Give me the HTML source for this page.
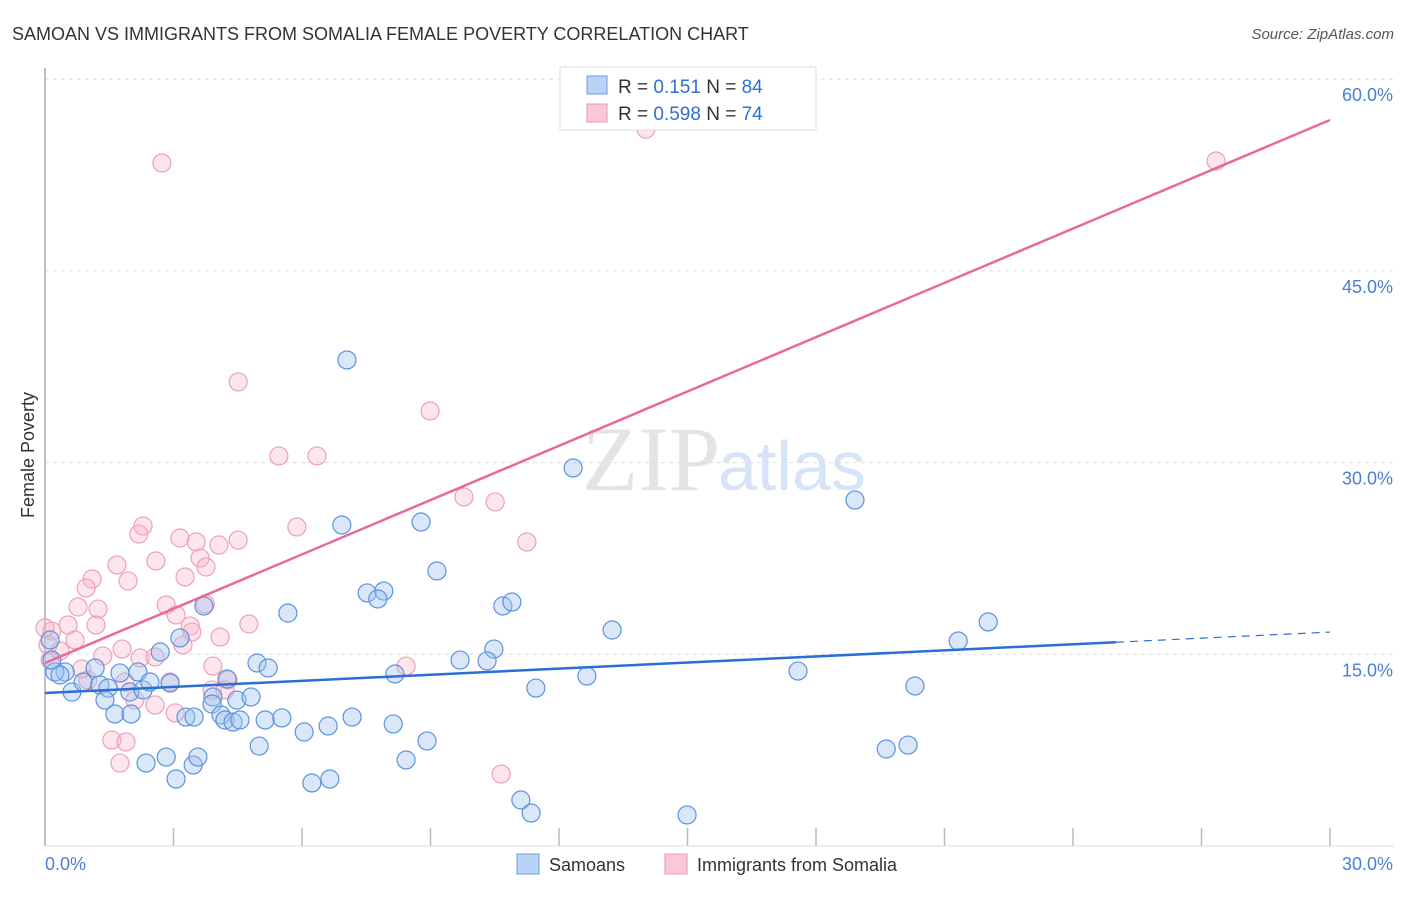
<!DOCTYPE html>
<html><head><meta charset="utf-8"><style>
body{margin:0;background:#fff;font-family:"Liberation Sans",sans-serif}
</style></head><body>
<svg id="c" width="1406" height="892" xmlns="http://www.w3.org/2000/svg">
<text x="12" y="40" font-size="18" fill="#333">SAMOAN VS IMMIGRANTS FROM SOMALIA FEMALE POVERTY CORRELATION CHART</text>
<text x="1394" y="39" font-size="15" fill="#555" font-style="italic" text-anchor="end">Source: ZipAtlas.com</text>
<text x="720" y="490" font-size="92" fill="#e4e4e4" text-anchor="end" font-family="Liberation Serif,serif">ZIP</text>
<text x="718" y="490" font-size="70" fill="#d6e4f7">atlas</text>
<g id="grid"></g><g id="axes"></g><g id="pts"></g><g id="lines"></g>
<text transform="translate(34,455) rotate(-90)" font-size="18" fill="#333" text-anchor="middle">Female Poverty</text>
<g>
<rect x="560" y="67" width="256" height="63" fill="#fff" stroke="#ddd"/>
<rect x="587" y="76" width="20" height="18" fill="#b9d3f5" stroke="#6a9be0"/>
<rect x="587" y="104" width="20" height="18" fill="#fbc8d7" stroke="#ec94b0"/>
<text x="618" y="93" font-size="19" fill="#333">R =  <tspan fill="#2f6fd6">0.151</tspan>   N =  <tspan fill="#2f6fd6">84</tspan></text>
<text x="618" y="120" font-size="19" fill="#333">R = <tspan fill="#2f6fd6">0.598</tspan>   N =  <tspan fill="#2f6fd6">74</tspan></text>
</g>
<g>
<rect x="517" y="854" width="22" height="20" fill="#b9d3f5" stroke="#6a9be0"/>
<text x="549" y="871" font-size="18" fill="#333">Samoans</text>
<rect x="665" y="854" width="22" height="20" fill="#fbc8d7" stroke="#ec94b0"/>
<text x="697" y="871" font-size="18" fill="#333">Immigrants from Somalia</text>
</g>
</svg>
<script>
const blueX=[12.33,7.05,18.91,8.78,6.93,9.15,7.52,7.91,7.77,10.69,10.90,5.67,3.71,13.24,22.02,21.32,10.48,9.69,10.32,4.95,5.21,8.17,12.65,17.58,11.46,20.31,3.15,2.69,2.17,1.75,1.17,0.47,0.23,0.63,0.89,1.28,1.47,1.40,1.98,2.29,2.45,2.92,1.63,2.01,3.92,3.90,4.25,4.48,4.11,4.20,4.39,4.55,4.81,5.14,5.53,3.29,3.48,6.05,6.61,7.17,8.13,5.00,2.83,2.36,3.46,3.57,3.06,6.23,6.65,8.43,8.92,11.11,11.35,14.99,19.64,20.15,0.12,0.16,0.35];
const blueY=[29.58,38.03,27.07,25.35,25.12,21.52,19.80,19.95,19.33,18.78,19.09,18.23,18.78,16.90,17.53,16.04,15.41,14.55,14.48,14.32,13.93,13.46,13.30,13.69,12.36,12.52,16.28,15.18,13.62,13.54,13.93,13.62,13.62,12.05,12.83,12.60,12.36,11.42,12.05,12.21,12.83,12.75,10.33,10.33,11.66,11.11,13.07,11.42,10.25,9.86,9.70,9.86,11.66,9.86,10.02,10.09,10.09,8.92,9.39,10.09,9.55,7.82,6.96,6.49,6.34,6.96,5.24,4.93,5.24,6.73,8.22,3.60,2.58,2.43,7.59,7.90,16.12,14.55,13.38];
const pinkX=[2.73,14.03,27.34,4.51,8.99,5.46,6.35,9.78,10.51,11.25,5.88,2.29,2.19,3.15,3.53,4.51,4.06,2.59,1.68,3.62,3.76,3.27,1.94,1.10,0.96,0.77,1.24,1.19,0.54,2.83,3.06,3.74,4.76,3.39,4.09,3.43,3.22,1.80,0.70,0.16,0.07,0.35,1.35,2.22,2.57,3.92,0.86,1.87,2.92,4.27,3.90,2.57,3.04,4.20,2.10,1.56,1.89,1.75,8.43,10.65,0.12,0.0,1.00];
const pinkY=[53.44,56.10,53.60,36.31,34.04,30.52,30.52,27.31,26.92,23.79,24.96,25.04,24.41,24.10,23.79,23.94,23.55,22.30,21.99,22.54,21.83,21.05,20.74,20.89,20.19,18.70,18.54,17.29,17.29,18.86,18.08,18.94,17.37,17.21,16.35,16.74,15.73,15.41,16.12,16.82,15.73,15.26,14.87,14.71,14.79,14.08,13.85,12.83,12.83,12.99,12.21,11.03,10.41,12.21,11.42,8.29,8.14,6.49,14.08,5.63,14.55,17.06,12.99];
const yTicks=[15,30,45,60];
const yTickLabels=["15.0%","30.0%","45.0%","60.0%"];
const blueTrend=[11.97,16.74];const blueSolidEnd=25;
const pinkTrend=[14.32,56.81];
const X=v=>45+v*(1285/30), Y=v=>846-v*12.78;
const NS="http://www.w3.org/2000/svg";
function mk(t,a,p){const e=document.createElementNS(NS,t);for(const k in a)e.setAttribute(k,a[k]);document.getElementById(p).appendChild(e);return e;}
yTicks.forEach((t,i)=>{
 const g=mk('line',{x1:45,x2:1394,y1:Y(t),y2:Y(t),stroke:'#ddd','stroke-dasharray':'4,4'},'grid');
 
 
 const l=mk('text',{x:1393,y:Y(t)+22,'font-size':18,fill:'#4a7fd4','text-anchor':'end'},'axes');l.textContent=yTickLabels[i];
 
 
});
const ax=mk('line',{x1:45,x2:45,y1:68,y2:846,stroke:'#aaa','stroke-width':1.5},'axes');


const bx=mk('line',{x1:45,x2:1394,y1:846,y2:846,stroke:'#ddd'},'axes');


for(let i=1;i<=10;i++){const t=mk('line',{x1:X(i*3),x2:X(i*3),y1:828,y2:846,stroke:'#bbb','stroke-width':1.5},'axes');
 
 }
let a=mk('text',{x:45,y:870,'font-size':18,fill:'#4a7fd4'},'axes');a.textContent='0.0%';


a=mk('text',{x:1393,y:870,'font-size':18,fill:'#4a7fd4','text-anchor':'end'},'axes');a.textContent='30.0%';


pinkX.forEach((x,i)=>{const c=mk('circle',{cx:X(x),cy:Y(pinkY[i]),r:9,fill:'rgba(248,180,200,0.35)',stroke:'#eea0b8','stroke-width':1.2},'pts');
 
 });
blueX.forEach((x,i)=>{const c=mk('circle',{cx:X(x),cy:Y(blueY[i]),r:9,fill:'rgba(160,195,240,0.4)',stroke:'#5b93df','stroke-width':1.2},'pts');
 
 });
const bl=v=>blueTrend[0]+(blueTrend[1]-blueTrend[0])*v/30;
let l=mk('line',{x1:X(0),y1:Y(bl(0)),x2:X(blueSolidEnd),y2:Y(bl(blueSolidEnd)),stroke:'#2a6fd6','stroke-width':2.5},'lines');


l=mk('line',{x1:X(blueSolidEnd),y1:Y(bl(blueSolidEnd)),x2:X(30),y2:Y(bl(30)),stroke:'#2a6fd6','stroke-width':1.2,'stroke-dasharray':'8,6'},'lines');


l=mk('line',{x1:X(0),y1:Y(pinkTrend[0]),x2:X(30),y2:Y(pinkTrend[1]),stroke:'#e8699a','stroke-width':2.5},'lines');


</script>
</body></html>
